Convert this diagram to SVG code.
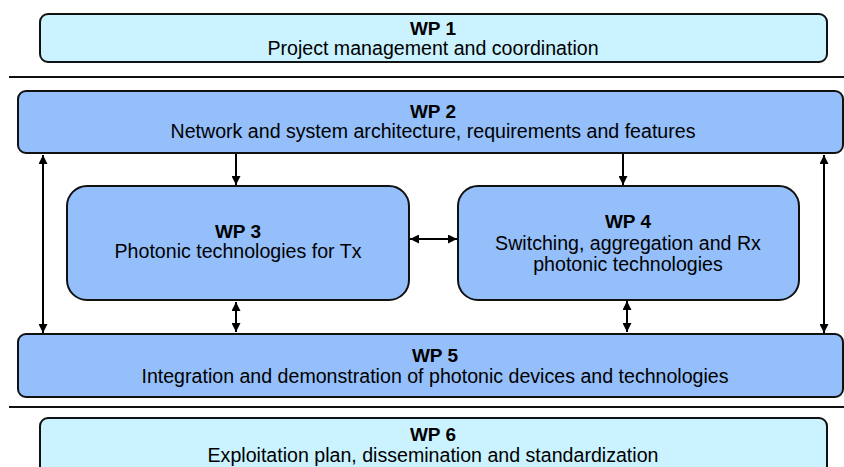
<svg xmlns="http://www.w3.org/2000/svg" width="844" height="467" viewBox="0 0 844 467">
<defs>
<style>
.light{fill:#CAF2FF;stroke:#111;stroke-width:2}
.blue{fill:#94BFFB;stroke:#111;stroke-width:2}
.sep{stroke:#111;stroke-width:2}
.h{font-family:"Liberation Sans",Arial,sans-serif;font-size:19px;font-weight:bold;text-anchor:middle;fill:#000}
.t{font-family:"Liberation Sans",Arial,sans-serif;font-size:19.6px;text-anchor:middle;fill:#000}
.c{stroke:#000;stroke-width:2;fill:none}
</style>
<marker id="ah" viewBox="0 0 10 10" refX="10" refY="5" markerWidth="5" markerHeight="4.5" orient="auto-start-reverse" markerUnits="strokeWidth">
<path d="M0,0 L10,5 L0,10 z" fill="#000"/>
</marker>
</defs>
<rect width="844" height="467" fill="#fff"/>
<line class="sep" x1="9" y1="77" x2="844" y2="77"/>
<line class="sep" x1="9" y1="407" x2="844" y2="407"/>
<g id="wp1">
<rect class="light" x="40" y="14" width="787" height="48" rx="8"/>
<text class="h" x="433" y="35">WP 1</text>
<text class="t" x="433" y="55">Project management and coordination</text>
</g>
<g id="wp2">
<rect class="blue" x="18" y="91" width="825" height="62" rx="8"/>
<text class="h" x="433" y="118">WP 2</text>
<text class="t" x="433" y="138">Network and system architecture, requirements and features</text>
</g>
<g id="wp3">
<rect class="blue" x="67" y="186" width="342" height="114" rx="20"/>
<text class="h" x="238" y="238">WP 3</text>
<text class="t" x="238" y="258">Photonic technologies for Tx</text>
</g>
<g id="wp4">
<rect class="blue" x="458" y="186" width="341" height="114" rx="20"/>
<text class="h" x="628" y="228">WP 4</text>
<text class="t" x="628" y="250">Switching, aggregation and Rx</text>
<text class="t" x="628" y="271">photonic technologies</text>
</g>
<g id="wp5">
<rect class="blue" x="18" y="334" width="825" height="63" rx="8"/>
<text class="h" x="435" y="362">WP 5</text>
<text class="t" x="435" y="383">Integration and demonstration of photonic devices and technologies</text>
</g>
<g id="wp6">
<rect class="light" x="40" y="418" width="787" height="60" rx="8"/>
<text class="h" x="433" y="441">WP 6</text>
<text class="t" x="433" y="462">Exploitation plan, dissemination and standardization</text>
</g>
<g id="connectors">
<line class="c" x1="43" y1="155" x2="43" y2="333" marker-start="url(#ah)" marker-end="url(#ah)"/>
<line class="c" x1="824" y1="155" x2="824" y2="333" marker-start="url(#ah)" marker-end="url(#ah)"/>
<line class="c" x1="236" y1="154" x2="236" y2="185" marker-end="url(#ah)"/>
<line class="c" x1="623" y1="154" x2="623" y2="185" marker-end="url(#ah)"/>
<line class="c" x1="410" y1="239" x2="457" y2="239" marker-start="url(#ah)" marker-end="url(#ah)"/>
<line class="c" x1="236" y1="302" x2="236" y2="332" marker-start="url(#ah)" marker-end="url(#ah)"/>
<line class="c" x1="627" y1="301" x2="627" y2="332" marker-start="url(#ah)" marker-end="url(#ah)"/>
</g>
</svg>
